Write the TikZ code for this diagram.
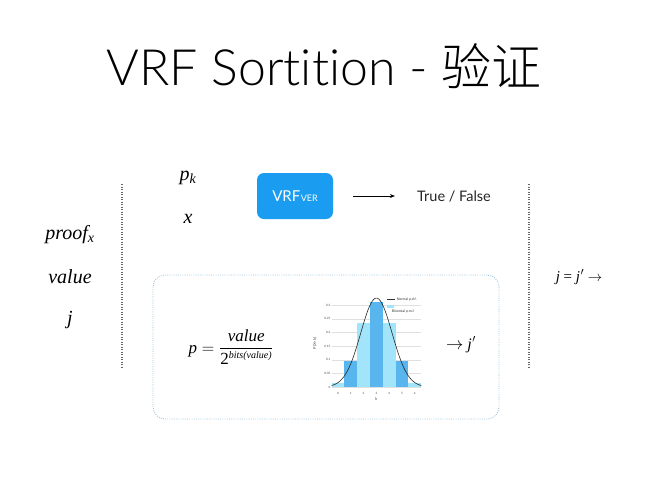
\documentclass[tikz,border=0pt]{standalone}
\usepackage{fontspec}
\setmainfont{Liberation Serif}
\setsansfont{Lato}[Ligatures=NoCommon]
\newfontfamily\titlefont{Lato Light}[Ligatures=NoCommon]
\newfontfamily\cjk{Noto Sans CJK SC Light}
\usetikzlibrary{arrows.meta}
\definecolor{vrfblue}{HTML}{1A9CF0}
\definecolor{lightbar}{HTML}{A2E4FA}
\definecolor{darkbar}{HTML}{58B5EE}
\definecolor{boxdot}{HTML}{9CC3DC}
\definecolor{linegray}{HTML}{666666}
\tikzset{
  vrfbox/.style={fill=vrfblue, rounded corners=7pt, minimum width=76pt, minimum height=46pt, text=white, font=\sffamily\fontsize{15}{17}\selectfont, inner sep=0pt},
  mathlab/.style={anchor=base, font=\fontsize{20}{24}\selectfont\itshape, inner sep=0pt},
  vdots/.style={draw=linegray, line width=1.2pt, dash pattern=on 1pt off 1.5pt},
  grpbox/.style={draw=boxdot, line width=0.9pt, dash pattern=on 0.9pt off 1.3pt, rounded corners=12pt, minimum width=346pt, minimum height=144pt, inner sep=0pt},
  arr/.style={-{Stealth[length=5pt,width=4pt]}, line width=1pt},
  ticklab/.style={font=\sffamily\fontsize{3}{3.5}\selectfont, text=black!70, inner sep=0.5pt},
  leglab/.style={font=\sffamily\fontsize{3.5}{4}\selectfont, text=black!80, inner sep=0pt, anchor=west},
  gridc/.style={draw=black!12, line width=0.3pt}
}
\begin{document}
\begin{tikzpicture}[x=1pt, y=-1pt]
\path[use as bounding box, fill=white] (0,0) rectangle (650,488);
% title
\node[anchor=base, font=\titlefont\fontsize{50}{60}\selectfont, inner sep=0pt] (title) at (324,85) {VRF Sortition - {\cjk 验证}};
% dotted separators
\coordinate (l1) at (122,184); \coordinate (l2) at (122,368);
\coordinate (r1) at (529,184); \coordinate (r2) at (529,368);
\draw[vdots] (l1) -- (l2);
\draw[vdots] (r1) -- (r2);
% left inputs
\node[mathlab] (proof) at (70,239) {proof\textsubscript{x}};
\node[mathlab] (value) at (70,283) {value};
\node[mathlab] (j) at (70,324) {j};
% top row
\node[mathlab] (pk) at (188,180) {p\textsubscript{k}};
\node[mathlab] (x) at (188,223) {x};
\node[vrfbox] (vrf) at (295,196) {VRF\kern0.5pt{\fontsize{9}{9}\selectfont VER}};
\node[font=\sffamily\fontsize{14.5}{16}\selectfont, text=black!85, inner sep=0pt] (tf) at (454,196) {True / False};
\draw[arr] ([xshift=20pt]vrf.east) -- ([xshift=-22pt]tf.west);
% group box
\node[grpbox] (grp) at (326,347) {};
\node[anchor=base, font=\fontsize{17}{20}\selectfont, inner sep=0pt] (frm) at (231,353)
  {$\displaystyle \hbox{\itshape p} = \frac{\hbox{\itshape value}}{\hbox{2}^{\hbox{\fontsize{10}{10}\selectfont\itshape bits(value)}}}$};
\node[anchor=base, font=\fontsize{16}{18}\selectfont, inner sep=0pt] (jp) at (461,349) {$\rightarrow$ \textit{j\kern0.5pt$'$}};
\node[anchor=base, font=\fontsize{15}{18}\selectfont, inner sep=0pt] (eq) at (579,281) {\textit{j} = \textit{j\kern0.5pt$'$} $\rightarrow$};
% chart
\begin{scope}[shift={(338,387)}, x=12.8pt, y=273pt]
  \fill[white] (-0.6,-0.01) rectangle (6.6,0.335);
  \foreach \v in {0,0.05,0.1,0.15,0.2,0.25,0.3} \draw[gridc] (-0.5,\v) -- (6.5,\v);
  \foreach \v in {0,0.05,0.1,0.15,0.2,0.25,0.3} \node[ticklab, anchor=east] at (-0.55,\v) {\v};
  \foreach \k in {0,...,6} \node[ticklab] at (\k,-0.022) {\k};
  \fill[lightbar] (-0.5,0) rectangle (0.5,0.0156);
  \fill[lightbar] (1.5,0) rectangle (2.5,0.234);
  \fill[lightbar] (3.5,0) rectangle (4.5,0.234);
  \fill[lightbar] (5.5,0) rectangle (6.5,0.0156);
  \fill[darkbar] (0.5,0) rectangle (1.5,0.094);
  \fill[darkbar] (2.5,0) rectangle (3.5,0.3125);
  \fill[darkbar] (4.5,0) rectangle (5.5,0.094);
  \draw[black!85, line width=0.6pt] plot[domain=-0.5:6.5, samples=90, smooth] ({\x},{0.3257*exp(-((\x-3)^2)/3)});
  \node[ticklab, rotate=90, font=\sffamily\fontsize{4}{4}\selectfont] at (-1.8,0.16) {P(X=k)};
  \node[ticklab, font=\sffamily\fontsize{4}{4}\selectfont] at (3,-0.045) {k};
  \draw[black!80, line width=0.4pt] (3.85,0.321) -- (4.45,0.321);
  \node[leglab] at (4.58,0.321) {Normal p.d.f.};
  \fill[lightbar] (3.85,0.289) rectangle (4.37,0.299);
  \node[leglab] at (4.19,0.277) {Binomial p.m.f.};
\end{scope}
\end{tikzpicture}
\end{document}
